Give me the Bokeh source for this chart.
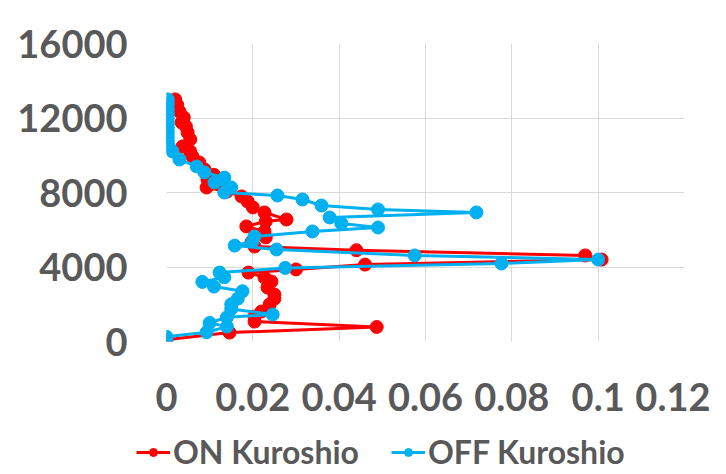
from bokeh.plotting import figure
from bokeh.layouts import column
from bokeh.models import Range1d, FixedTicker, Legend, LegendItem
from bokeh.embed import file_html
from bokeh.resources import INLINE

# ON Kuroshio (red)
on_y = [100, 480, 780, 1070, 1340, 1610, 1990, 2300, 2520, 2900, 3220, 3440, 3700, 3870,
        4130, 4400, 4620, 4900, 5100, 5350, 5590, 5910, 6180, 6450, 6550, 6930, 7200, 7520,
        7790, 8050, 8270, 8540, 8700, 8950, 9240, 9610, 9930, 10200, 10470, 10850, 11220,
        11550, 11760, 12030, 12350, 12700, 13000]
on_x = [0.0, 0.0146, 0.0487, 0.0204, 0.0204, 0.0220, 0.0239, 0.0250, 0.0250, 0.0234, 0.0243,
        0.0227, 0.0190, 0.0300, 0.0460, 0.1008, 0.0970, 0.0440, 0.0204, 0.0197, 0.0230, 0.0227,
        0.0185, 0.0230, 0.0278, 0.0227, 0.0200, 0.0188, 0.0174, 0.0140, 0.0093, 0.0130, 0.0095,
        0.0110, 0.0088, 0.0076, 0.0060, 0.0055, 0.0037, 0.0055, 0.0049, 0.0045, 0.0035, 0.0040,
        0.0030, 0.0025, 0.0020]

# OFF Kuroshio (blue)
off_y = [80, 250, 500, 800, 1000, 1300, 1450, 1750, 2000, 2300, 2700, 2950, 3200, 3450, 3700,
         3950, 4190, 4400, 4620, 4940, 5150, 5370, 5640, 5910, 6120, 6340, 6660, 6930, 7090,
         7300, 7625, 7840, 8000, 8270, 8540, 8800, 9080, 9400, 9770, 10200, 10500, 10750,
         11000, 11250, 11500, 11750, 12000, 12250, 12500, 12750, 13000]
off_x = [0.0, 0.0, 0.0093, 0.0140, 0.0100, 0.0140, 0.0246, 0.0150, 0.0150, 0.0165, 0.0176,
         0.0110, 0.0083, 0.0134, 0.0123, 0.0275, 0.0776, 0.1000, 0.0575, 0.0255, 0.0158, 0.0199,
         0.0204, 0.0338, 0.0490, 0.0405, 0.0378, 0.0718, 0.0490, 0.0359, 0.0315, 0.0257, 0.0134,
         0.0150, 0.0111, 0.0134, 0.0088, 0.0070, 0.0030, 0.0014, 0.0005, 0.0003, 0.0003, 0.0003,
         0.0003, 0.0003, 0.0003, 0.0003, 0.0003, 0.0003, 0.0003]

x_ticks = [0, 0.02, 0.04, 0.06, 0.08, 0.1, 0.12]
x_labels = ["0", "0.02", "0.04", "0.06", "0.08", "0.1", "0.12"]
y_ticks = [0, 4000, 8000, 12000, 16000]
y_labels = ["0", "4000", "8000", "12000", "16000"]
series_names = ["ON Kuroshio", "OFF Kuroshio"]

RED = "#FF0000"
BLUE = "#00B0F0"
TXT = "#595959"
FONT = "Lato"

p = figure(width=710, height=423, output_backend="svg", toolbar_location=None,
           x_range=Range1d(0, 0.12), y_range=Range1d(0, 16000),
           min_border_left=166, min_border_right=26, min_border_top=43, min_border_bottom=82)
p.outline_line_color = None
p.background_fill_color = "white"
p.border_fill_color = "white"

for ax in (p.xaxis[0], p.yaxis[0]):
    ax.axis_line_color = None
    ax.major_tick_line_color = None
    ax.minor_tick_line_color = None
    ax.major_label_text_font = FONT
    ax.major_label_text_font_style = "bold"
    ax.major_label_text_font_size = "38px"
    ax.major_label_text_color = TXT

p.xaxis.ticker = FixedTicker(ticks=x_ticks)
p.xaxis.major_label_overrides = {t: l for t, l in zip(x_ticks, x_labels)}
p.yaxis.ticker = FixedTicker(ticks=y_ticks)
p.yaxis.major_label_overrides = {t: l for t, l in zip(y_ticks, y_labels)}
p.xaxis.major_label_standoff = 35
p.yaxis.major_label_standoff = 33

p.xgrid.grid_line_color = "#D9D9D9"
p.ygrid.grid_line_color = "#D9D9D9"

p.line(on_x, on_y, line_color=RED, line_width=3)
p.scatter(on_x, on_y, size=13, fill_color=RED, line_color=RED)
p.line(off_x, off_y, line_color=BLUE, line_width=3)
p.scatter(off_x, off_y, size=13, fill_color=BLUE, line_color=BLUE)

# legend strip below the chart (its own series are kept out of view)
lg = figure(width=710, height=48, output_backend="svg", toolbar_location=None,
            x_range=Range1d(0, 1), y_range=Range1d(-2, -1),
            x_axis_location=None, y_axis_location=None,
            min_border_left=0, min_border_right=0, min_border_top=0, min_border_bottom=0)
lg.grid.visible = False
lg.outline_line_color = None
r1l = lg.line(on_x, on_y, line_color=RED, line_width=3)
r1s = lg.scatter(on_x, on_y, size=10, fill_color=RED, line_color=RED)
r2l = lg.line(off_x, off_y, line_color=BLUE, line_width=3)
r2s = lg.scatter(off_x, off_y, size=10, fill_color=BLUE, line_color=BLUE)

if "frame_align" in lg.properties():
    p.frame_align = False
    lg.frame_align = False
    loc_x = 136
else:
    loc_x = 0

legend = Legend(items=[LegendItem(label=series_names[0], renderers=[r1l, r1s]),
                       LegendItem(label=series_names[1], renderers=[r2l, r2s])],
                orientation="horizontal", location=(loc_x, 0),
                label_text_font=FONT, label_text_font_style="bold",
                label_text_font_size="32px", label_text_color=TXT,
                label_standoff=3,
                glyph_width=34, glyph_height=20, spacing=32, padding=0, margin=0,
                border_line_color=None, background_fill_alpha=0)
lg.add_layout(legend, "center")

open("out.html", "w").write(file_html(column(p, lg, spacing=0), INLINE))
